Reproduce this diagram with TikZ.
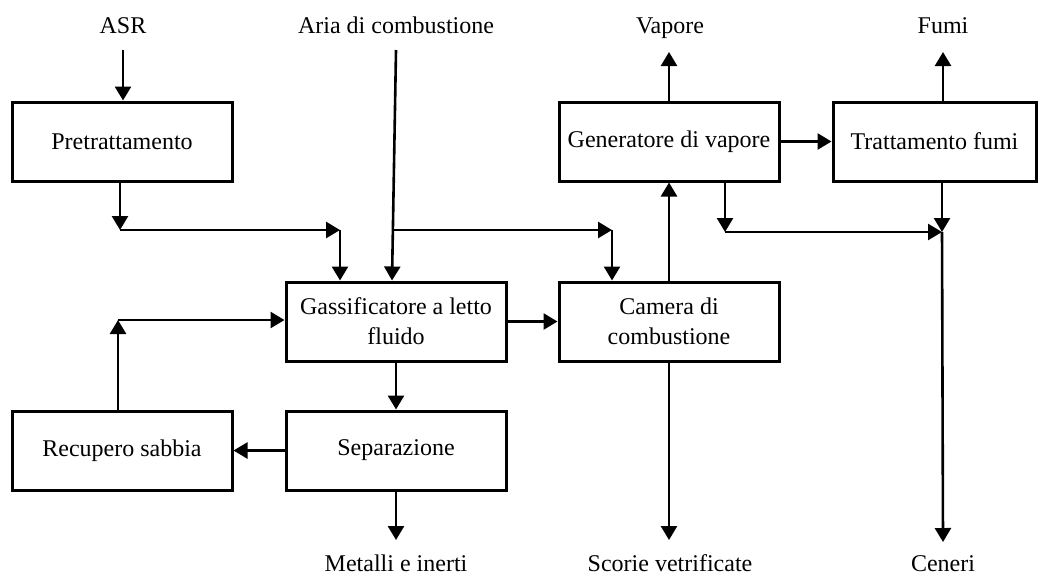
\documentclass[tikz,border=0pt]{standalone}
\usepackage{fontspec}
\setmainfont{Liberation Serif}
\usetikzlibrary{arrows.meta}
\begin{document}
\begin{tikzpicture}[x=1pt,y=-1pt,
  font=\fontsize{24}{30}\selectfont,
  box/.style={draw, line width=3pt, minimum width=220pt, minimum height=79pt,
              inner sep=0pt, align=center},
  lbl/.style={anchor=base, inner sep=0pt},
  flow/.style={line width=2.6pt, -{Triangle[length=14pt,width=16pt]}}]
\useasboundingbox (0,0) rectangle (1040,576);

% process blocks
\node[box] (pre) at (122,141.5) {Pretrattamento};
\node[box] (gen) at (669,141.5) {Generatore di vapore};
\node[box, minimum width=203pt] (tf) at (934.5,141.5) {Trattamento fumi};
\node[box] (gas) at (396,321.5) {Gassificatore a letto\\fluido};
\node[box] (cam) at (669,321.5) {Camera di\\combustione};
\node[box] (rec) at (122,450.5) {Recupero sabbia};
\node[box] (sep) at (396,450.5) {Separazione};

% inputs and outputs
\node[lbl] (asr)  at (123,33) {ASR};
\node[lbl] (aria) at (396,33) {Aria di combustione};
\node[lbl] (vap)  at (670,33) {Vapore};
\node[lbl] (fumi) at (943,33) {Fumi};
\node[lbl] (met)  at (396,571) {Metalli e inerti};
\node[lbl] (sco)  at (670,571) {Scorie vetrificate};
\node[lbl] (cen)  at (943,571) {Ceneri};

% free ends and junctions
\coordinate (asrS)  at (123,50);
\coordinate (ariaS) at (396,50);
\coordinate (vapE)  at (669,52);
\coordinate (fumE)  at (943,52);
\coordinate (metE)  at (396,540);
\coordinate (scoE)  at (669,540);
\coordinate (cenE)  at (943,542);
\coordinate (j1) at (120,230);
\coordinate (j2) at (340,230);
\coordinate (j3) at (393,230);
\coordinate (j4) at (612,230);
\coordinate (j5) at (725,232);
\coordinate (j6) at (942,232);
\coordinate (j7) at (118,320);

% feed line
\draw[flow] (asrS) -- (pre.north -| asrS);
\draw[flow] (pre.south -| j1) -- (j1);
\draw[flow] (j1) -- (j2);
\draw[flow] (j2) -- (gas.north -| j2);

% combustion air
\draw[flow] (ariaS) -- ([xshift=-4pt]gas.north);
\draw[flow] (j3) -- (j4);
\draw[flow] (j4) -- (cam.north -| j4);

% gas path
\draw[flow] (gas.east) -- (cam.west);
\draw[flow] (cam.north) -- (gen.south);
\draw[flow] (gen.north) -- (vapE);
\draw[flow] (gen.east) -- (tf.west);
\draw[flow] (tf.north -| fumE) -- (fumE);

% ash collection
\draw[flow] (gen.south -| j5) -- (j5);
\draw[flow] (j5) -- (j6);
\draw[flow] (tf.south -| j6) -- (j6);
\draw[flow] (j6) -- (cenE);

% sand loop and solids
\draw[flow] (gas.south) -- (sep.north);
\draw[flow] (sep.west) -- (rec.east);
\draw[flow] (rec.north -| j7) -- (j7);
\draw[flow] (j7) -- (gas.west |- j7);
\draw[flow] (sep.south) -- (metE);
\draw[flow] (cam.south) -- (scoE);
\end{tikzpicture}
\end{document}
